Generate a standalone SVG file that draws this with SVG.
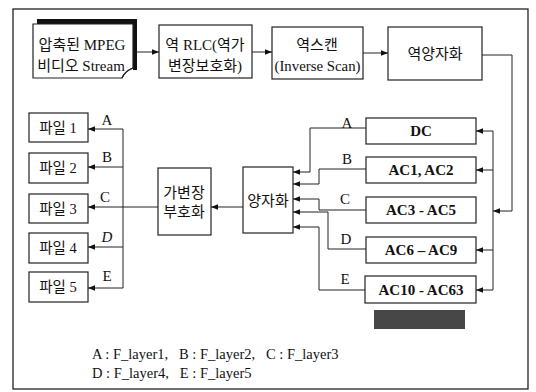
<svg xmlns="http://www.w3.org/2000/svg" width="536" height="392" viewBox="0 0 536 392">
<defs>
<style>
.box{fill:#fff;stroke:#222;stroke-width:1.2}
.ln{fill:none;stroke:#222;stroke-width:1}
.t{font-family:"Liberation Serif","Noto Sans CJK KR",serif;font-size:15px;fill:#111;text-anchor:middle}
.tf{font-family:"Liberation Serif","Noto Sans CJK KR",serif;font-size:14.5px;fill:#111;text-anchor:middle}
.tb{font-family:"Liberation Serif",serif;font-size:15px;font-weight:bold;fill:#111;text-anchor:middle}
.lb{font-family:"Liberation Serif",serif;font-size:15px;fill:#111;text-anchor:middle}
.lg{font-family:"Liberation Serif",serif;font-size:14.5px;fill:#111}
</style>
<marker id="ah" viewBox="0 0 10 10" refX="10" refY="5" markerWidth="7" markerHeight="7" orient="auto" markerUnits="userSpaceOnUse">
<path d="M0,1 L10,5 L0,9 Z" fill="#111"/>
</marker>
</defs>
<rect width="536" height="392" fill="#fff"/>
<rect x="13" y="9" width="515" height="380" fill="none" stroke="#222" stroke-width="1.3"/>

<g id="n_stream">
<path d="M37,19 L137,19 L137,70 L133,70 L133,24 L37,24 Z" fill="#111"/>
<path d="M33,24 L133,24 L133,68 Q126,70 122,78 L33,78 Z" class="box"/>
<path d="M122,78 Q124,72 133,68" fill="none" stroke="#222" stroke-width="1.2"/>
<text class="t" x="82" y="50">압축된 MPEG</text>
<text class="t" x="81" y="71">비디오 Stream</text>
</g>
<g id="n_rlc">
<rect class="box" x="159" y="25" width="93" height="53"/>
<text class="t" x="205" y="50">역 RLC(역가</text>
<text class="t" x="205" y="71">변장보호화)</text>
</g>
<g id="n_scan">
<rect class="box" x="272" y="27" width="91" height="52"/>
<text class="t" x="317" y="50">역스캔</text>
<text class="t" x="317.5" y="71" textLength="86" lengthAdjust="spacingAndGlyphs">(Inverse Scan)</text>
</g>
<g id="n_iq">
<rect class="box" x="388" y="27" width="94" height="53"/>
<text class="t" x="435" y="59" font-size="16.5">역양자화</text>
</g>

<g id="n_dc"><rect class="box" x="366" y="118" width="110" height="26"/><text class="tb" x="421" y="136">DC</text></g>
<g id="n_ac1"><rect class="box" x="366" y="157" width="110" height="26"/><text class="tb" x="421" y="175">AC1, AC2</text></g>
<g id="n_ac3"><rect class="box" x="366" y="197" width="110" height="26"/><text class="tb" x="421" y="215">AC3 - AC5</text></g>
<g id="n_ac6"><rect class="box" x="366" y="237" width="110" height="26"/><text class="tb" x="421" y="255">AC6 – AC9</text></g>
<g id="n_ac10"><rect class="box" x="365" y="276" width="111" height="27"/><text class="tb" x="421" y="295">AC10 - AC63</text></g>
<g id="n_grey"><rect x="374" y="310" width="91" height="19" fill="#474747"/></g>

<g id="n_q">
<rect class="box" x="243" y="167" width="50" height="66"/>
<text class="t" x="268" y="206" font-size="16">양자화</text>
</g>
<g id="n_vlc">
<rect class="box" x="158" y="168" width="53" height="67"/>
<text class="t" x="184" y="198" font-size="16">가변장</text>
<text class="t" x="184" y="217" font-size="16">부호화</text>
</g>

<g id="n_f1"><rect class="box" x="29" y="113" width="59" height="29"/><text class="tf" x="58" y="133">파일 1</text></g>
<g id="n_f2"><rect class="box" x="29" y="153" width="59" height="30"/><text class="tf" x="58" y="173">파일 2</text></g>
<g id="n_f3"><rect class="box" x="29" y="194" width="59" height="29"/><text class="tf" x="58" y="214">파일 3</text></g>
<g id="n_f4"><rect class="box" x="29" y="233" width="59" height="30"/><text class="tf" x="58" y="253">파일 4</text></g>
<g id="n_f5"><rect class="box" x="29" y="272" width="59" height="30"/><text class="tf" x="58" y="292">파일 5</text></g>

<g id="connectors">
<line class="ln" x1="135" y1="52" x2="159" y2="52" marker-end="url(#ah)"/>
<line class="ln" x1="252" y1="52" x2="272" y2="52" marker-end="url(#ah)"/>
<line class="ln" x1="363" y1="53" x2="388" y2="53" marker-end="url(#ah)"/>
<polyline class="ln" points="482,55 512,55 512,211 493,211" marker-end="url(#ah)"/>
<line class="ln" x1="493" y1="131" x2="493" y2="290"/>
<line class="ln" x1="493" y1="131" x2="476" y2="131" marker-end="url(#ah)"/>
<line class="ln" x1="493" y1="170" x2="476" y2="170" marker-end="url(#ah)"/>
<line class="ln" x1="493" y1="250" x2="476" y2="250" marker-end="url(#ah)"/>
<line class="ln" x1="493" y1="290" x2="476" y2="290" marker-end="url(#ah)"/>

<polyline class="ln" points="366,128 310,128 310,172 293,172" marker-end="url(#ah)"/>
<polyline class="ln" points="366,169 319,169 319,184 293,184" marker-end="url(#ah)"/>
<polyline class="ln" points="366,210 319,210 319,199 293,199" marker-end="url(#ah)"/>
<polyline class="ln" points="366,249 328,249 328,212 293,212" marker-end="url(#ah)"/>
<polyline class="ln" points="365,290 319,290 319,227 293,227" marker-end="url(#ah)"/>

<line class="ln" x1="243" y1="207" x2="211" y2="207" marker-end="url(#ah)"/>
<line class="ln" x1="158" y1="207" x2="88" y2="207" marker-end="url(#ah)"/>
<line class="ln" x1="123" y1="129" x2="123" y2="288"/>
<line class="ln" x1="123" y1="129" x2="88" y2="129" marker-end="url(#ah)"/>
<line class="ln" x1="123" y1="167" x2="88" y2="167" marker-end="url(#ah)"/>
<line class="ln" x1="123" y1="247" x2="88" y2="247" marker-end="url(#ah)"/>
<line class="ln" x1="123" y1="288" x2="88" y2="288" marker-end="url(#ah)"/>

<text class="lb" x="107" y="125">A</text>
<text class="lb" x="107" y="162">B</text>
<text class="lb" x="105" y="202">C</text>
<text class="lb" x="107" y="242" font-style="italic">D</text>
<text class="lb" x="107" y="281">E</text>
<text class="lb" x="347" y="128">A</text>
<text class="lb" x="347" y="164">B</text>
<text class="lb" x="345" y="204">C</text>
<text class="lb" x="346" y="244">D</text>
<text class="lb" x="345" y="284">E</text>
</g>

<text class="lg" x="92" y="359" xml:space="preserve">A : F_layer1,   B : F_layer2,   C : F_layer3</text>
<text class="lg" x="92" y="378" xml:space="preserve">D : F_layer4,   E : F_layer5</text>
</svg>
